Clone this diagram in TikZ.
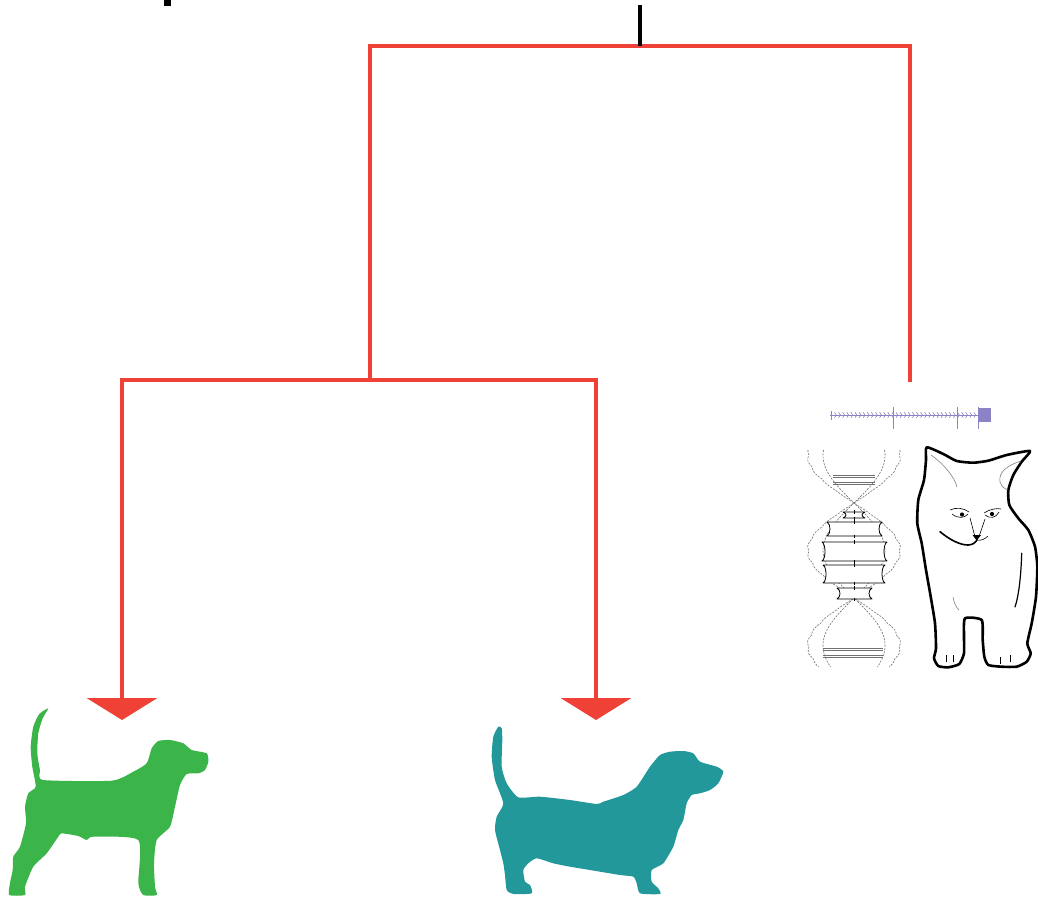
\documentclass[tikz,border=0pt]{standalone}
\usetikzlibrary{arrows.meta}
\definecolor{treered}{HTML}{EF4136}
\definecolor{beaglegreen}{HTML}{3BB54A}
\definecolor{bassetteal}{HTML}{23989A}
\definecolor{barviolet}{HTML}{8A84C6}
\definecolor{helixgray}{HTML}{707070}
\tikzset{dogtip/.tip={Triangle[width=70pt,length=22pt]}}
\begin{document}
\begin{tikzpicture}[x=1pt,y=-1pt,
  branch/.style={draw=treered, line width=4.6pt},
  stemline/.style={draw=black, line width=4.6pt},
  backbone/.style={draw=helixgray, line width=0.6pt, dash pattern=on 2pt off 1.3pt},
  rungpair/.style={draw=helixgray, line width=0.7pt},
  basepair/.style={draw=black, line width=0.8pt, fill=white, line join=round},
  catline/.style={draw=black, line width=2.6pt, line join=round},
  catdetail/.style={draw=black, line width=0.6pt},
  barline/.style={draw=barviolet, line width=0.8pt}]
\useasboundingbox (0,0) rectangle (1038,899);
\fill[white] (0,0) rectangle (1038,899);

% tree junctions
\coordinate (stem) at (640,5);
\coordinate (root) at (640,46);
\coordinate (rootL) at (370,46);
\coordinate (rootR) at (910,46);
\coordinate (split) at (370,380);
\coordinate (catEnd) at (910,382);
\coordinate (splitL) at (122,380);
\coordinate (splitR) at (596,380);
\coordinate (beagle) at (122,720);
\coordinate (basset) at (596,720);

% small dark fragment at the top edge
\fill[black] (164,0) rectangle (171,6);

% branches
\draw[branch] (split) -- (rootL) -- (rootR) -- (catEnd);
\draw[branch, dogtip-dogtip] (beagle) -- (splitL) -- (splitR) -- (basset);
\draw[stemline] (stem) -- (root);

% beagle silhouette
\fill[beaglegreen] plot[smooth cycle, tension=0.35] coordinates {
 (48.3,708.3) (42.7,718.3) (38.3,733.3) (37.3,753.3) (40,770) (43.3,780)
 (111.7,780.7) (133.3,771.7) (146.7,763.3) (151.7,748.3) (158.3,741) (170,740)
 (183.3,743.3) (191.7,750) (206.7,753.3) (208.3,761.7) (205,770) (198.3,773.3)
 (186.7,774) (180,785) (175,806.7) (170,826.7) (156.7,840) (154,863.3)
 (155,886.7) (156.7,895) (143.3,895) (138.3,883.3) (138.3,840) (93.3,836.7)
 (86.7,840) (78.3,836) (61.7,833.3) (58.3,836.7) (46.7,853.3) (33.3,866.7)
 (25,886.7) (25,895) (9.3,895) (10,883) (12.7,870) (13.3,856.7) (20,846.7)
 (26,823.3) (25,806.7) (28.3,793.3) (35.7,786.7) (32.3,766.7) (30.7,746.7)
 (33.3,726.7) (39.3,714)};

% basset silhouette
\fill[bassetteal] plot[smooth cycle, tension=0.35] coordinates {
 (498.3,726.7) (501.7,728.3) (502.3,740) (501.7,766.7) (506.7,783.3) (518.3,797.3)
 (540,796.7) (570,800) (596.7,804) (603.3,801.7) (623.3,795) (636.7,786.7)
 (650,766.7) (660,755) (670,751.7) (683.3,751) (693.3,753.3) (700,761.7)
 (716.7,766.7) (723.3,771.7) (718.3,783.3) (710,790) (700,793.3) (691.7,795)
 (686.7,803.3) (683.3,820) (678.3,830) (673.3,846.7) (663.3,863.3) (651.7,870)
 (651.7,881.7) (658.3,888.3) (660,894) (640,893.3) (636.7,883.3) (633.3,876.7)
 (620,875) (590,870) (570,866.7) (553.3,863.3) (536.7,858.3) (528.3,863.3)
 (523.3,870) (525,881.7) (530,885) (531.7,893.3) (513.3,894) (506.7,890)
 (505,875) (503.3,863.3) (500,850) (495,830) (496.7,816.7) (503.3,803.3)
 (495,780) (491.7,756.7) (493.3,736.7)};

% scale bar
\draw[barline] (830,415) -- (979,415);
\foreach \k in {0,...,34}
  \draw[barviolet, line width=0.6pt] ({834.5+4.1*\k},412.3) -- ({836.3+4.1*\k},415) -- ({834.5+4.1*\k},417.7);
\draw[barline] (831.5,411) -- (831.5,420);
\draw[barline] (893.3,407) -- (893.3,429);
\draw[barline] (957.3,407) -- (957.3,429);
\draw[barline] (978.6,407) -- (978.6,429);
\fill[barviolet] (978.6,408) rectangle (990.7,422);

% double helix: two beaded ribbon strands (half turn = 95 units)
\foreach \s in {1,-1} {
  \draw[backbone] plot[domain=-53:164, samples=180, variable=\t]
    ({854+\s*(45*sin(1.894737*\t)+1.8*abs(sin(15*\t))*sin(1.894737*\t))}, {503+\t});
  \draw[backbone] plot[domain=-53:164, samples=120, variable=\t]
    ({854+\s*31*sin(1.894737*\t)}, {503+\t});
}
% grey base pairs in the outer turns
\foreach \yy in {475.5,477.5,482,484} \draw[rungpair] (833,\yy) -- (875,\yy);
\foreach \yy in {648,650,655,657} \draw[rungpair] (823,\yy) -- (883,\yy);
% outlined base pairs in the middle turn, with flared ends
\foreach \xa/\ya/\xb/\yb in {843/512/865/518, 827/522/882/536, 822/542/887/561, 823/565/885/583, 837/588/872/599} {
  \draw[basepair] (\xa,\ya) -- (\xb,\ya)
     .. controls ({\xb-4},{\ya+2}) and ({\xb-4},{\yb-2}) .. (\xb,\yb)
     -- (\xa,\yb)
     .. controls ({\xa+4},{\yb-2}) and ({\xa+4},{\ya+2}) .. cycle;
  \draw[black, line width=0.8pt] (854,{\ya-2}) -- (854,{\ya+1.5});
  \draw[black, line width=0.8pt] (854,{\yb-1.5}) -- (854,{\yb+2});
}

% kitten
\filldraw[catline, fill=white] plot[smooth cycle, tension=0.35] coordinates {
 (926.7,447.3) (943.3,454) (956.7,461) (973.3,462.7) (988.3,460.7) (1006.7,455)
 (1030,451) (1021.7,461.7) (1013.3,475) (1008.3,490) (1009.3,505) (1018.3,518.3)
 (1028.3,530) (1035,546.7) (1037.3,566.7) (1036,596.7) (1031.7,623.3)
 (1027.3,643.3) (1030.7,653.3) (1026.7,661.7) (1016.7,666.7) (1001.7,666.7)
 (988.3,665) (984.3,656.7) (982.7,640) (981.7,620) (965,618.3) (964,636.7)
 (964,653.3) (959.3,664) (948.3,667.3) (938.3,666) (934,658.3) (936,648.3)
 (935,623.3) (930.7,596.7) (926,570) (921.7,543.3) (917.3,523.3) (918.3,500)
 (924,480) (926,460)};
% ears
\draw[catdetail, draw=gray] (931,455) .. controls (945,465) and (955,478) .. (957,487);
\draw[catdetail, draw=gray] (1021,461) .. controls (1008,465) and (998,472) .. (1000,482) .. controls (1002,488) and (1006,489) .. (1008,490);
% eyes
\draw[catdetail] (950,510) .. controls (956,507) and (964,508) .. (969,512);
\draw[catdetail] (952,514) .. controls (958,519) and (965,518) .. (968,514);
\fill[black] (962,514.5) circle (2.1);
\draw[catdetail] (984,513) .. controls (990,509) and (997,508) .. (1001,509);
\draw[catdetail] (985,515) .. controls (990,519) and (996,518) .. (999,512);
\fill[black] (992,514) circle (2.1);
% nose and muzzle
\draw[catdetail] (970,518) -- (974.5,535);
\draw[catdetail] (985,519) -- (979.5,535);
\fill[black] (972.5,535) -- (981,535) -- (976.7,540.5) -- cycle;
\draw[black, line width=1.6pt, line cap=round] (940,531.7) .. controls (950,540) and (960,545) .. (968,545) .. controls (972,545) and (975,543) .. (977,540);
\draw[catdetail] (977,540) .. controls (981,541) and (985,539) .. (988,536);
% body contour
\draw[black, line width=1.2pt, line cap=round] (1021.7,553.3) .. controls (1021,575) and (1019,595) .. (1015,607);
\draw[catdetail, draw=gray] (953,597) .. controls (954,603) and (956,607) .. (959,610);
% toes
\draw[catdetail] (946,655) -- (946,662);
\draw[catdetail] (953,655) -- (953,662);
\draw[catdetail] (1000,657) -- (1000,664);
\draw[catdetail] (1010,655) -- (1010,662);
\end{tikzpicture}
\end{document}
